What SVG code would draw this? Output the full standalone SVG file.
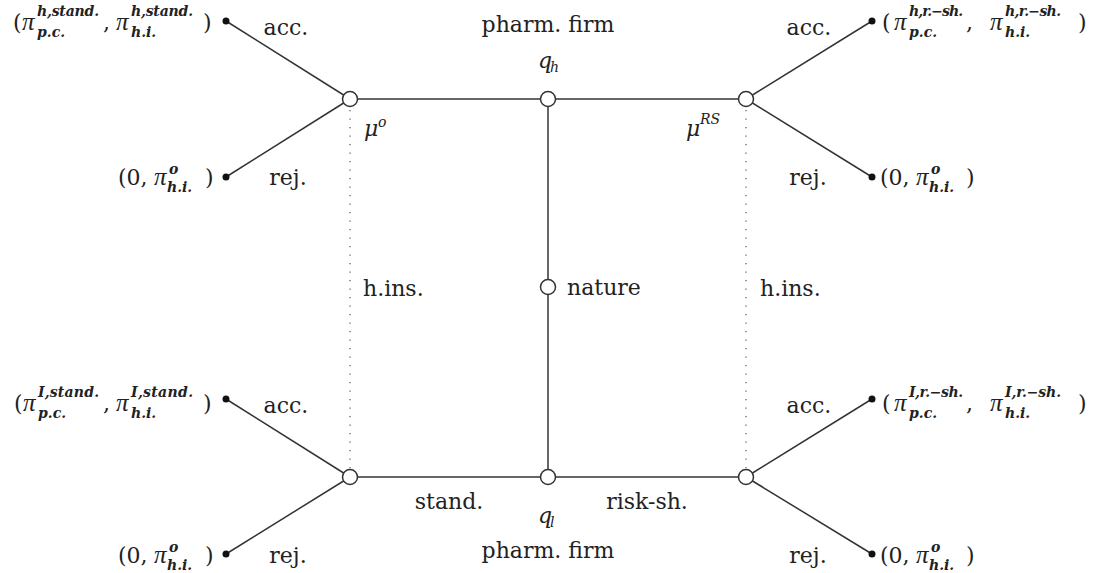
<svg xmlns="http://www.w3.org/2000/svg" width="1096" height="573" viewBox="0 0 1096 573">
<style>
.t{font-family:"DejaVu Serif","Liberation Serif",serif;font-size:22px;fill:#222}
.c{text-anchor:middle}
.m{font-style:italic}
.p{font-family:"Liberation Serif","DejaVu Serif",serif;font-size:25px;font-style:italic;fill:#222}
.s{font-family:"DejaVu Serif","Liberation Serif",serif;font-size:14px;font-style:italic;font-weight:bold;fill:#222}
.r{font-weight:normal}
.e{stroke:#333;stroke-width:1.5;fill:none}
.d{stroke:#666;stroke-width:1.3;stroke-dasharray:1.3 7.2;fill:none}
.n{fill:#fff;stroke:#333;stroke-width:1.5}
.l{fill:#111}
</style>
<rect width="1096" height="573" fill="#fff"/>
<g id="connectors">
<line class="e" x1="350" y1="99" x2="746" y2="99"/>
<line class="e" x1="350" y1="477" x2="746" y2="477"/>
<line class="e" x1="548" y1="99" x2="548" y2="477"/>
<line class="e" x1="350" y1="99" x2="226" y2="21"/>
<line class="e" x1="350" y1="99" x2="226" y2="177"/>
<line class="e" x1="746" y1="99" x2="872" y2="21"/>
<line class="e" x1="746" y1="99" x2="872" y2="177"/>
<line class="e" x1="350" y1="477" x2="226" y2="399"/>
<line class="e" x1="350" y1="477" x2="226" y2="554"/>
<line class="e" x1="746" y1="477" x2="872" y2="399"/>
<line class="e" x1="746" y1="477" x2="872" y2="554"/>
<line class="d" x1="350" y1="110" x2="350" y2="470"/>
<line class="d" x1="746" y1="110" x2="746" y2="470"/>
</g>
<g id="node-firm-top">
<circle class="n" cx="548" cy="99" r="7.5"/>
<text class="t c" x="548" y="32">pharm. firm</text>
<text class="t m" x="538" y="68">q</text><text class="s r" x="550" y="72">h</text>
</g>
<g id="node-nature">
<circle class="n" cx="548" cy="287" r="7.5"/>
<text class="t" x="567" y="295">nature</text>
</g>
<g id="node-firm-bottom">
<circle class="n" cx="548" cy="477" r="7.5"/>
<text class="t m" x="538" y="523">q</text><text class="s r" x="550" y="527">l</text>
<text class="t c" x="548" y="558">pharm. firm</text>
<text class="t c" x="449" y="509">stand.</text>
<text class="t c" x="647" y="509">risk-sh.</text>
</g>
<g id="node-hins-standard">
<circle class="n" cx="350" cy="99" r="7.5"/>
<circle class="n" cx="350" cy="477" r="7.5"/>
<text class="t m" x="364" y="136">μ</text><text class="s r" x="378" y="127">o</text>
<text class="t" x="363" y="296">h.ins.</text>
<text class="t c" x="286" y="35">acc.</text>
<text class="t c" x="288" y="185">rej.</text>
<text class="t c" x="286" y="413">acc.</text>
<text class="t c" x="288" y="563">rej.</text>
</g>
<g id="node-hins-risk">
<circle class="n" cx="746" cy="99" r="7.5"/>
<circle class="n" cx="746" cy="477" r="7.5"/>
<text class="t m" x="686" y="136">μ</text><text class="s r" x="700" y="124">RS</text>
<text class="t" x="760" y="296">h.ins.</text>
<text class="t c" x="809" y="35">acc.</text>
<text class="t c" x="808" y="185">rej.</text>
<text class="t c" x="809" y="413">acc.</text>
<text class="t c" x="808" y="563">rej.</text>
</g>
<g id="leaf-tl-acc">
<circle class="l" cx="226" cy="21" r="3.5"/>
<text class="t" x="13" y="30">(</text><text class="p" x="22" y="30">π</text>
<text class="s" x="37" y="16" textLength="62">h,stand.</text><text class="s" x="37" y="37">p.c.</text>
<text class="t" x="103" y="30">,</text><text class="p" x="116" y="30">π</text>
<text class="s" x="131" y="16" textLength="62">h,stand.</text><text class="s" x="131" y="37">h.i.</text>
<text class="t" x="203" y="30">)</text>
</g>
<g id="leaf-tl-rej">
<circle class="l" cx="226" cy="177" r="3.5"/>
<text class="t" x="118" y="185">(0,</text><text class="p" x="154" y="185">π</text>
<text class="s" x="169" y="174">o</text><text class="s" x="167" y="192">h.i.</text>
<text class="t" x="205" y="185">)</text>
</g>
<g id="leaf-tr-acc">
<circle class="l" cx="872" cy="21" r="3.5"/>
<text class="t" x="882" y="30">(</text><text class="p" x="894" y="30">π</text>
<text class="s" x="909" y="16" textLength="54">h,r.−sh.</text><text class="s" x="909" y="37">p.c.</text>
<text class="t" x="966" y="30">,</text><text class="p" x="990" y="30">π</text>
<text class="s" x="1005" y="16" textLength="56">h,r.−sh.</text><text class="s" x="1005" y="37">h.i.</text>
<text class="t" x="1078" y="30">)</text>
</g>
<g id="leaf-tr-rej">
<circle class="l" cx="872" cy="177" r="3.5"/>
<text class="t" x="880" y="185">(0,</text><text class="p" x="916" y="185">π</text>
<text class="s" x="931" y="174">o</text><text class="s" x="929" y="192">h.i.</text>
<text class="t" x="966" y="185">)</text>
</g>
<g id="leaf-bl-acc">
<circle class="l" cx="226" cy="399" r="3.5"/>
<text class="t" x="14" y="411">(</text><text class="p" x="23" y="411">π</text>
<text class="s" x="38" y="397" textLength="61">I,stand.</text><text class="s" x="38" y="418">p.c.</text>
<text class="t" x="103" y="411">,</text><text class="p" x="116" y="411">π</text>
<text class="s" x="131" y="397" textLength="62">I,stand.</text><text class="s" x="131" y="418">h.i.</text>
<text class="t" x="203" y="411">)</text>
</g>
<g id="leaf-bl-rej">
<circle class="l" cx="226" cy="554" r="3.5"/>
<text class="t" x="118" y="563">(0,</text><text class="p" x="154" y="563">π</text>
<text class="s" x="169" y="552">o</text><text class="s" x="167" y="570">h.i.</text>
<text class="t" x="205" y="563">)</text>
</g>
<g id="leaf-br-acc">
<circle class="l" cx="872" cy="399" r="3.5"/>
<text class="t" x="882" y="411">(</text><text class="p" x="894" y="411">π</text>
<text class="s" x="909" y="397" textLength="54">I,r.−sh.</text><text class="s" x="909" y="418">p.c.</text>
<text class="t" x="966" y="411">,</text><text class="p" x="990" y="411">π</text>
<text class="s" x="1005" y="397" textLength="56">I,r.−sh.</text><text class="s" x="1005" y="418">h.i.</text>
<text class="t" x="1078" y="411">)</text>
</g>
<g id="leaf-br-rej">
<circle class="l" cx="872" cy="554" r="3.5"/>
<text class="t" x="880" y="563">(0,</text><text class="p" x="916" y="563">π</text>
<text class="s" x="931" y="552">o</text><text class="s" x="929" y="570">h.i.</text>
<text class="t" x="966" y="563">)</text>
</g>
</svg>
